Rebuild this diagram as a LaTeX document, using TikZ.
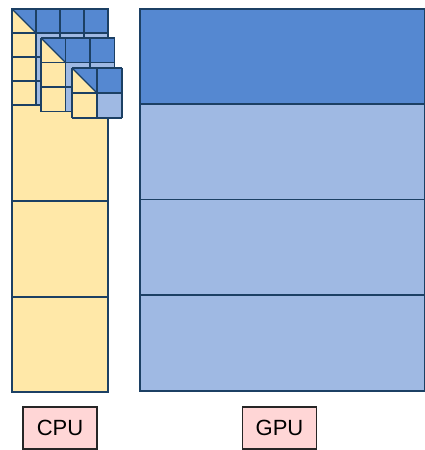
\documentclass[tikz,border=0pt]{standalone}
\usepackage{fontspec}
\setmainfont{Liberation Sans}
\definecolor{dkblue}{RGB}{85,136,209}
\definecolor{ltblue}{RGB}{159,185,227}
\definecolor{cream}{RGB}{255,232,168}
\definecolor{edge}{RGB}{28,64,100}
\definecolor{pinkfill}{RGB}{255,214,214}
\begin{document}
\begin{tikzpicture}[x=1pt,y=-1pt,line width=1.1pt,
  cellline/.style={draw=edge,line width=1.1pt},
  label/.style={draw=black!85,fill=pinkfill,line width=1.1pt,minimum width=74pt,minimum height=42pt,inner sep=0pt,font=\fontsize{22}{25}\selectfont}]
\useasboundingbox (0,0) rectangle (425,450);
% CPU column
\fill[cream] (12,9) rectangle (108,392);
\draw[cellline] (12,9) rectangle (108,392);
\foreach \yy in {105,201,297} \draw[cellline] (12,\yy) -- (108,\yy);
% GPU column
\fill[dkblue] (140,9) rectangle (424.5,104);
\fill[ltblue] (140,104) rectangle (424.5,391);
\draw[cellline] (140,9) rectangle (424.5,391);
\foreach \yy in {104,199.5,295} \draw[cellline] (140,\yy) -- (424.5,\yy);
% tile grids: origin x, origin y, cell size, count
\foreach \ox/\oy/\cs/\n in {12/9/24/4, 41/38/24.5/3, 72/68/25/2}{
  \fill[ltblue] (\ox,\oy) rectangle ++(\n*\cs,\n*\cs);
  \fill[dkblue] (\ox,\oy) rectangle ++(\n*\cs,\cs);
  \fill[cream] (\ox,\oy+\cs) rectangle ++(\cs,\n*\cs-\cs);
  \fill[cream] (\ox,\oy) -- ++(0,\cs) -- ++(\cs,0) -- cycle;
  \draw[cellline] (\ox,\oy) -- ++(\cs,\cs);
  \foreach \k in {0,...,\n}{
    \draw[cellline] (\ox+\k*\cs,\oy) -- ++(0,\n*\cs);
    \draw[cellline] (\ox,\oy+\k*\cs) -- ++(\n*\cs,0);
  }
}
% labels
\node[label] (cpu) at (60,428) {CPU};
\node[label] (gpu) at (279.5,428) {GPU};
\end{tikzpicture}
\end{document}
